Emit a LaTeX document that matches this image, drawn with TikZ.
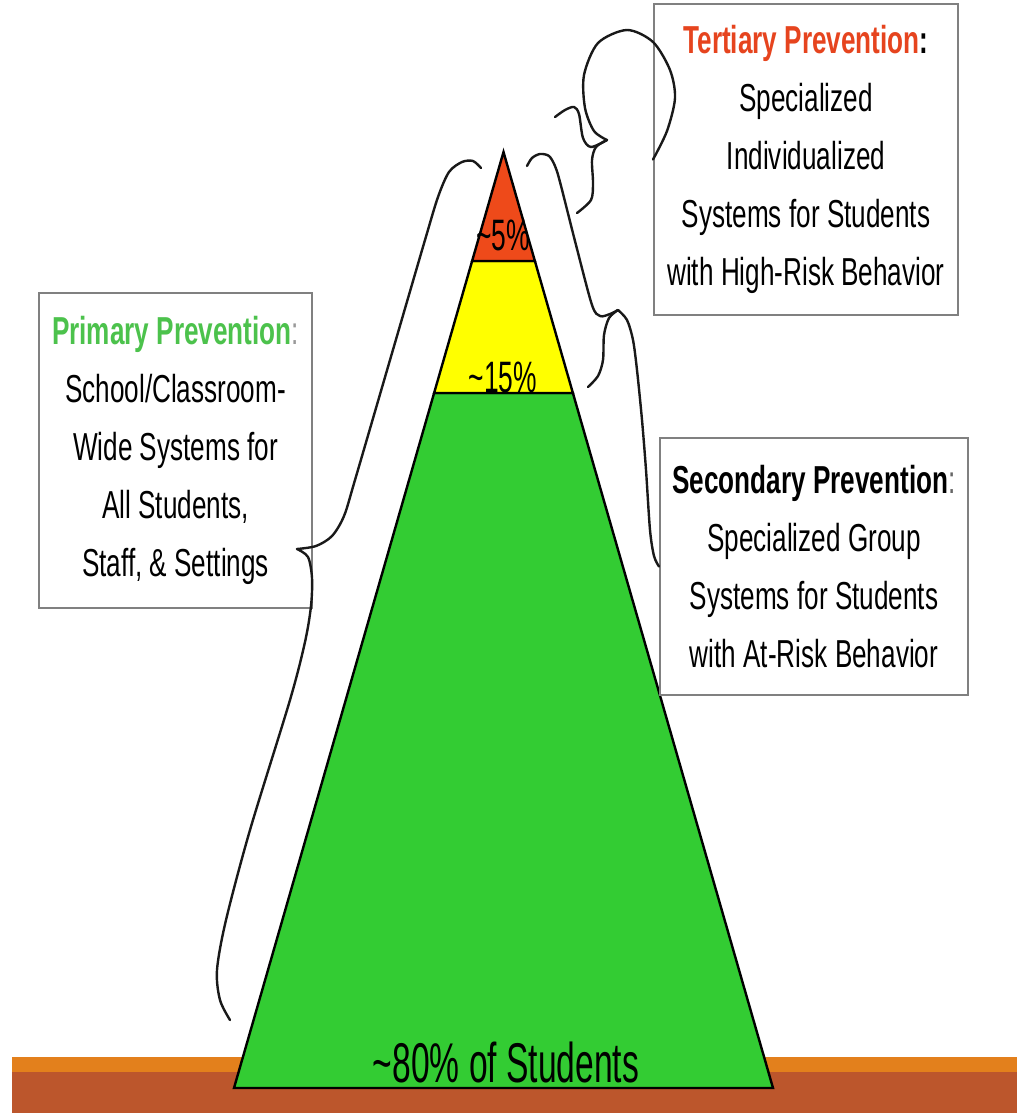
\documentclass[tikz,border=0pt]{standalone}
\usepackage{fontspec}
\setmainfont{Liberation Sans}[FakeStretch=0.67]
\newfontfamily\tierfont{Liberation Sans}[FakeStretch=0.6]
\usetikzlibrary{calc}

\definecolor{tiergreen}{HTML}{33CC33}
\definecolor{tieryellow}{HTML}{FFFF00}
\definecolor{tierred}{HTML}{EE4A1A}
\definecolor{primgreen}{HTML}{4CC24C}
\definecolor{tertred}{HTML}{E6441E}
\definecolor{groundtop}{HTML}{E3801C}
\definecolor{groundlow}{HTML}{BC562C}

\tikzset{
  infobox/.style={draw=black!50, line width=2pt, fill=white, align=center,
    inner sep=0pt, font=\fontsize{39}{58}\selectfont},
  brace/.style={black!90, line width=2.4pt, line cap=round, line join=round},
  pct/.style={anchor=base, inner sep=0pt, font=\tierfont\fontsize{44}{44}\selectfont}
}

\begin{document}
\begin{tikzpicture}[x=1pt, y=-1pt]
		\useasboundingbox (0,0) rectangle (1017,1113);
		\fill[white] (0,0) rectangle (1017,1113);
		
		% Draw the ground
		\fill[groundtop] (12,1057) rectangle (1017,1072);
		\fill[groundlow] (12,1072) rectangle (1017,1113);
		
		% Corners of the pyramid
		\coordinate (apex) at (503.5,152);
		\coordinate (bl) at (234,1088);
		\coordinate (br) at (773,1088);
		\coordinate (yl) at ($(apex)!0.2575!(bl)$);
		\coordinate (yr) at ($(apex)!0.2575!(br)$);
		\coordinate (rl) at ($(apex)!0.1165!(bl)$);
		\coordinate (rr) at ($(apex)!0.1165!(br)$);
		
		% Draw the three tiers
		\filldraw[fill=tiergreen, line width=2.4pt] (bl) -- (br) -- (yr) -- (yl) -- cycle;
		\filldraw[fill=tieryellow, line width=2.4pt] (yl) -- (yr) -- (rr) -- (rl) -- cycle;
		\filldraw[fill=tierred, line width=2.4pt] (rl) -- (rr) -- (apex) -- cycle;
		
		% Percent labels
		\node[pct] (five) at (503,250) {\textasciitilde5\%};
		\node[pct] (fifteen) at (503,392) {\textasciitilde15\%};
		\node[pct, font=\tierfont\fontsize{56}{56}\selectfont] (eighty) at (506,1082) {\textasciitilde80\% of Students};
		
		% Boxes with the three levels
		\node[infobox, minimum width=304pt, minimum height=311pt] (tert) at (806,159.5)
		{{\bfseries\color{tertred}Tertiary Prevention}{\bfseries:}\\Specialized\\Individualized\\Systems for Students\\with High-Risk Behavior};
		\node[infobox, minimum width=273pt, minimum height=315pt] (prim) at (175.5,450.5)
		{{\bfseries\color{primgreen}Primary Prevention}{\color{black!40}:}\\School/Classroom-\\Wide Systems for\\All Students,\\Staff, \& Settings};
		\node[infobox, minimum width=308pt, minimum height=257pt] (sec) at (814,566.5)
		{{\bfseries Secondary Prevention}{\color{black!60}:}\\Specialized Group\\Systems for Students\\with At-Risk Behavior};
		
		% Brace for primary prevention
		\coordinate (primtip) at (297,549);
		\draw[brace] plot[smooth] coordinates {(481,168) (473,161) (462,162) (449,172) (438,197) (425,240) (390,360) (355,480) (344,516) (332,536) (316,546) (primtip)};
		\draw[brace] plot[smooth] coordinates {(primtip) (308,557) (312,578) (311,606) (305,642) (290,700) (250,830) (226,920) (217,970) (220,1000) (230,1020)};
		
		% Brace for tertiary prevention
		\coordinate (terttip) at (607,140);
		\draw[brace] plot[smooth] coordinates {(555,117) (565,110) (574,107) (579,114) (583,138) (591,147) (terttip)};
		\draw[brace] plot[smooth] coordinates {(terttip) (596,147) (592,160) (593,183) (591,200) (577,213)};
		\draw[brace] plot[smooth] coordinates {(terttip) (594,131) (585,108) (584,75) (598,43) (627,30) (653,42) (670,70) (675,98) (667,131) (tert.west)};
		
		% Brace for secondary prevention
		\coordinate (sectip) at (618,310);
		\draw[brace] plot[smooth] coordinates {(527,166) (532,158) (540,154) (549,156) (555,166) (560,182) (576,245) (592,305) (600,316) (610,314) (sectip)};
		\draw[brace] plot[smooth] coordinates {(sectip) (609,318) (604,335) (603,360) (598,376) (588,387)};
		\draw[brace] plot[smooth] coordinates {(sectip) (627,320) (633,340) (637,370) (642,420) (646,470) (650,530) (654,556) (sec.west)};
	\end{tikzpicture}
\end{document}
